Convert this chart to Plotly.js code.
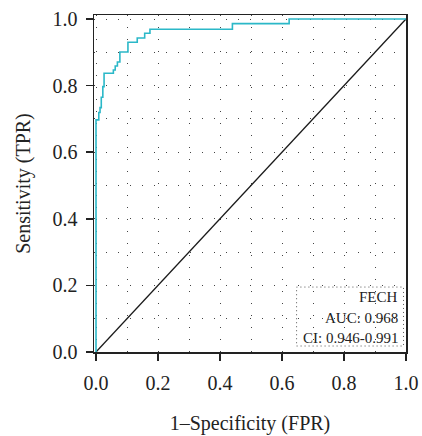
<!DOCTYPE html>
<html>
<head>
<meta charset="utf-8">
<script src="https://cdn.plot.ly/plotly-3.0.1.min.js"></script>
<style>html,body{margin:0;padding:0;background:#fff;}#chart{width:422px;height:436px;}</style>
</head>
<body>
<div id="chart"></div>
<script>
// ROC curve (FECH)
const fpr = [0, 0, 0.009, 0.013, 0.017, 0.022, 0.026, 0.056, 0.062, 0.069, 0.077, 0.103, 0.133, 0.157, 0.174, 0.440, 0.623, 1.0];
const tpr = [0, 0.697, 0.719, 0.734, 0.765, 0.797, 0.837, 0.847, 0.859, 0.871, 0.901, 0.930, 0.943, 0.957, 0.969, 0.986, 1.0, 1.0];
const refX = [0, 1];
const refY = [0, 1];
const legendLines = ["FECH", "AUC: 0.968", "CI: 0.946-0.991"];
const tickVals = [0, 0.2, 0.4, 0.6, 0.8, 1.0];
const tickText = ["0.0", "0.2", "0.4", "0.6", "0.8", "1.0"];

const FONT = "Liberation Serif, Times New Roman, serif";
const gridDash = "1px,11px";

const traces = [
  {x: refX, y: refY, mode: "lines", line: {color: "#1a1a1a", width: 1.3}, hoverinfo: "skip"},
  {x: fpr, y: tpr, mode: "lines", line: {color: "#2bb8c8", width: 1.6, shape: "hv"}, hoverinfo: "skip"}
];

function axis(title, range) {
  return {
    range: range, tickvals: tickVals, ticktext: tickText,
    ticks: "outside", ticklen: 7, tickwidth: 1.5, tickcolor: "#222",
    showline: true, linecolor: "#222", linewidth: 1.5, mirror: true,
    showgrid: true, gridcolor: "#444", gridwidth: 1, griddash: gridDash,
    minor: {dtick: 0.1, tick0: 0, showgrid: true, gridcolor: "#444", gridwidth: 1, griddash: gridDash},
    zeroline: false, fixedrange: true,
    tickfont: {family: FONT, size: 20, color: "#222"},
    title: {text: title, font: {family: FONT, size: 20, color: "#222"}}
  };
}

const xa = axis("1–Specificity (FPR)", [-0.0065, 1.0]);
xa.ticklabelstandoff = 5;
xa.title.standoff = 23;
const ya = axis("Sensitivity (TPR)", [0, 1.012]);
ya.ticklabelstandoff = 4;
ya.title.standoff = 16;

const annY = [0.165, 0.102, 0.042];
const annotations = legendLines.map((t, i) => ({
  x: 0.982, y: annY[i], xref: "x", yref: "y", xanchor: "right", yanchor: "middle",
  text: t, showarrow: false, font: {family: FONT, size: 15, color: "#222"}
}));

const layout = {
  width: 422, height: 436,
  margin: {l: 94, r: 16, t: 15, b: 84},
  paper_bgcolor: "#fff", plot_bgcolor: "#fff",
  showlegend: false,
  xaxis: xa, yaxis: ya,
  annotations: annotations,
  shapes: [{
    type: "rect", xref: "x", yref: "y", x0: 0.647, x1: 0.992, y0: 0.018, y1: 0.195,
    fillcolor: "#fff", line: {color: "#555", width: 1, dash: "1px,3px"}, layer: "below"
  }]
};

Plotly.newPlot("chart", traces, layout, {displayModeBar: false, staticPlot: true});
</script>
</body>
</html>
